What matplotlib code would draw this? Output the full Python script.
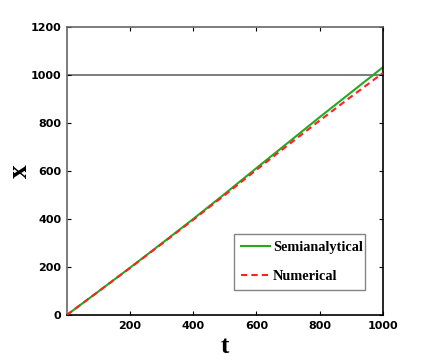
import matplotlib
matplotlib.use("Agg")
import matplotlib.pyplot as plt
import numpy as np

t = [0, 100, 200, 300, 400, 500, 600, 700, 800, 900, 1000]
semi = [0, 98, 197, 298, 400, 505, 612, 718, 824, 928, 1032]
num = [0, 98, 196, 296, 397, 500, 605, 708, 810, 910, 1008]
xticks = [200, 400, 600, 800, 1000]
yticks = [0, 200, 400, 600, 800, 1000, 1200]

fig = plt.figure(figsize=(4.23, 3.6), dpi=100)
ax = fig.add_axes([0.158, 0.125, 0.747, 0.8])
ax.axhline(1000, color="#666666", lw=1.2, zorder=1)
ax.plot(t, semi, color="#22aa22", lw=1.5, label="Semianalytical", zorder=2)
ax.plot(t, num, color="#ff2020", lw=1.5, ls=(0, (3, 2)), label="Numerical", zorder=3)
ax.set_xlim(0, 1000)
ax.set_ylim(0, 1200)
ax.set_xticks(xticks)
ax.set_yticks(yticks)
ax.tick_params(direction="in", top=True, right=True, length=3, pad=4)
for lab in ax.get_xticklabels() + ax.get_yticklabels():
    lab.set_fontfamily("DejaVu Sans")
    lab.set_fontweight("bold")
    lab.set_fontsize(8)
ax.spines["top"].set_color("#666666")
ax.spines["left"].set_color("#666666")
for s in ax.spines.values():
    s.set_linewidth(1.2)
ax.set_xlabel("t", family="Liberation Serif", fontweight="bold", fontsize=18)
ax.set_ylabel("x", family="Liberation Serif", fontweight="bold", fontsize=20)
ax.xaxis.set_label_coords(0.5, -0.07)
ax.yaxis.set_label_coords(-0.106, 0.5)
leg = ax.legend(loc="lower left", bbox_to_anchor=(0.53, 0.087, 0.415, 0.233), mode="expand",
                prop={"family": "Liberation Serif", "weight": "bold", "size": 10.3},
                fancybox=False, edgecolor="#666666", handlelength=2.0, handletextpad=0.2,
                labelspacing=1.1, borderaxespad=0, borderpad=0.5)
leg.get_frame().set_linewidth(1.0)
fig.savefig("out.png", dpi=100)
